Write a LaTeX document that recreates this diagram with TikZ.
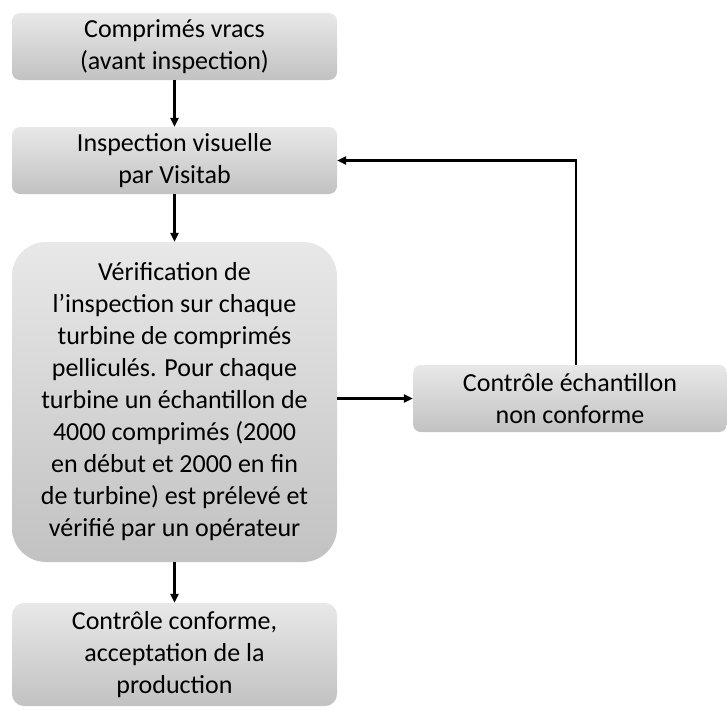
\documentclass[tikz,border=0pt]{standalone}
\usepackage{fontspec}
\setmainfont{Carlito}
\usetikzlibrary{arrows.meta}
\begin{document}
\begin{tikzpicture}[x=1pt, y=-1pt,
  every node/.style={font=\fontsize{26}{32}\selectfont},
  stepbox/.style={top color=gray!18, bottom color=gray!48, rounded corners=8pt, minimum width=325pt, minimum height=67pt, align=center, inner sep=0pt},
  flow/.style={-{Triangle[length=9pt,width=8pt]}, line width=2.4pt}]
\useasboundingbox (0,0) rectangle (727,709);
\node[stepbox] (bulk) at (174.5,46.5) {Comprimés vracs\\(avant inspection)};
\node[stepbox] (visu) at (174.5,160.5) {Inspection visuelle\\par Visitab};
\node[stepbox,rounded corners=34pt,minimum height=320pt] (check) at (174.5,402) {Vérification de\\l’inspection sur chaque\\turbine de comprimés\\pelliculés. Pour chaque\\turbine un échantillon de\\4000 comprimés (2000\\en début et 2000 en fin\\de turbine) est prélevé et\\vérifié par un opérateur};
\node[stepbox,minimum height=103pt,rounded corners=12pt] (ok) at (174.5,654.5) {Contrôle conforme,\\acceptation de la\\production};
\node[stepbox,minimum width=314pt] (nok) at (570,398.5) {Contrôle échantillon\\non conforme};
\draw[flow] (bulk) -- (visu);
\draw[flow] (visu) -- (check);
\draw[flow] (check) -- (ok);
\draw[flow] (check.east |- nok.west) -- (nok.west);
\draw[flow] (nok.north -| 576,0) |- (visu.east);
\end{tikzpicture}
\end{document}
